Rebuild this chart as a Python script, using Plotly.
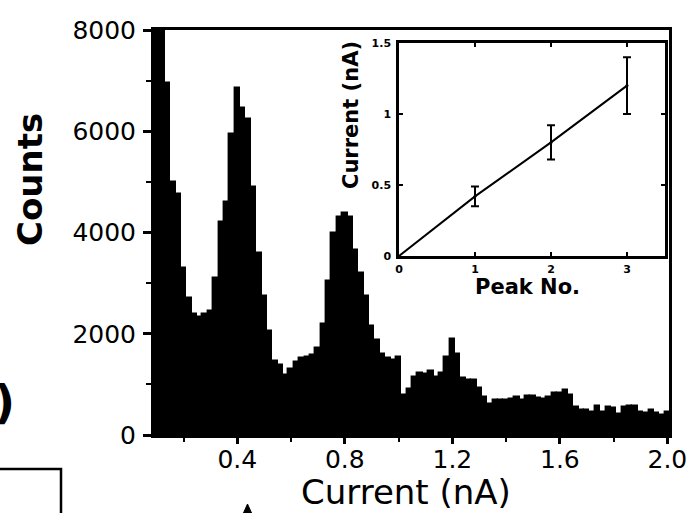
import plotly.graph_objects as go

# Histogram of current steps: bins of 0.02 nA starting at 0.09 nA
bin_start = 0.09
bin_width = 0.02
counts = [
    8600, 8300, 6950, 5000, 4770, 3300, 2700, 2400, 2340, 2400,
    2450, 3100, 4200, 4600, 5950, 6850, 6450, 6250, 4900, 3600,
    2750, 2050, 1470, 1380, 1180, 1300, 1450, 1530, 1550, 1580,
    1720, 2200, 3050, 4000, 4300, 4380, 4300, 3650, 3200, 2750,
    2150, 1880, 1600, 1515, 1490, 1550, 800, 900, 1150, 1230,
    1200, 1270, 1150, 1220, 1550, 1900, 1600, 1120, 1090, 1080,
    920, 760, 620, 690, 690, 690, 720, 757, 700, 780,
    780, 725, 710, 760, 823, 830, 890, 800, 550, 494,
    494, 450, 570, 460, 547, 540, 420, 550, 573, 573,
    461, 440, 500, 428, 400, 461,
]
bin_centers = [round(bin_start + bin_width * (i + 0.5), 3) for i in range(len(counts))]

# Inset: peak current versus peak number
peak_no = [0, 1, 2, 3]
peak_current = [0, 0.42, 0.80, 1.20]
peak_err_no = [1, 2, 3]
peak_err_current = [0.42, 0.80, 1.20]
peak_err = [0.07, 0.12, 0.20]

main_x_ticks = [0.4, 0.8, 1.2, 1.6, 2.0]
main_y_ticks = [0, 2000, 4000, 6000, 8000]
inset_x_ticks = [0, 1, 2, 3]
inset_y_ticks = [0, 0.5, 1, 1.5]
inset_y_text = ["0", "0.5", "1", "1.5"]

W, H = 689, 513
ML, MR, MT, MB = 154, 20, 30, 78
PW, PH = W - ML - MR, H - MT - MB


def px(x):
    return (x - ML) / PW


def py(y):
    return (H - MB - y) / PH


fig = go.Figure()

fig.add_trace(go.Bar(
    x=bin_centers, y=counts, width=bin_width,
    marker=dict(color="black", line=dict(color="black", width=1.4)),
    showlegend=False, xaxis="x", yaxis="y",
))

fig.add_trace(go.Scatter(
    x=peak_no, y=peak_current, mode="lines",
    line=dict(color="black", width=2),
    showlegend=False, xaxis="x2", yaxis="y2",
))
fig.add_trace(go.Scatter(
    x=peak_err_no, y=peak_err_current, mode="markers",
    marker=dict(color="black", size=3),
    error_y=dict(type="data", array=peak_err, visible=True,
                 color="black", thickness=2, width=4),
    showlegend=False, xaxis="x2", yaxis="y2",
))

tick_font = dict(family="DejaVu Sans", size=25, color="black")
inset_tick_font = dict(family="DejaVu Sans", size=11, color="black", weight="bold")

fig.update_layout(
    width=W, height=H,
    margin=dict(l=ML, r=MR, t=MT, b=MB, pad=0, autoexpand=False),
    paper_bgcolor="white", plot_bgcolor="white",
    bargap=0,
    xaxis=dict(
        domain=[0, 1], range=[0.09, 2.006], automargin=False,
        tickvals=main_x_ticks, tickformat=".1f",
        ticks="outside", ticklen=6, tickwidth=2.5, tickcolor="black",
        minor=dict(dtick=0.2, tick0=0, ticks="outside", ticklen=4,
                   tickwidth=2, tickcolor="black"),
        showline=True, linewidth=3, linecolor="black", mirror=True,
        showgrid=False, zeroline=False, tickfont=tick_font,
        ticklabelstandoff=-6,
    ),
    yaxis=dict(
        domain=[0, 1], range=[0, 8000], automargin=False,
        tickvals=main_y_ticks,
        ticks="outside", ticklen=8, tickwidth=2.5, tickcolor="black",
        minor=dict(dtick=1000, tick0=0, ticks="outside", ticklen=5,
                   tickwidth=2, tickcolor="black"),
        showline=True, linewidth=3, linecolor="black", mirror=True,
        showgrid=False, zeroline=False, tickfont=tick_font,
        ticklabelstandoff=2,
    ),
    xaxis2=dict(
        domain=[px(399), px(665)], anchor="y2", range=[0, 3.5],
        tickvals=inset_x_ticks, automargin=False,
        ticks="inside", ticklen=4, tickwidth=2, tickcolor="black",
        showline=True, linewidth=2.5, linecolor="black", mirror="ticks",
        showgrid=False, zeroline=False, tickfont=inset_tick_font,
        ticklabelstandoff=1,
    ),
    yaxis2=dict(
        domain=[py(256), py(43)], anchor="x2", range=[0, 1.5],
        tickvals=inset_y_ticks, ticktext=inset_y_text, automargin=False,
        ticks="inside", ticklen=4, tickwidth=2, tickcolor="black",
        showline=True, linewidth=2.5, linecolor="black", mirror="ticks",
        showgrid=False, zeroline=False, tickfont=inset_tick_font,
        ticklabelstandoff=3,
    ),
)

annotations = [
    dict(text="<b>Counts</b>", x=px(30), y=py(180), textangle=-90,
         font=dict(family="DejaVu Sans", size=34, color="black")),
    dict(text="Current (nA)", x=px(406), y=py(492),
         font=dict(family="DejaVu Sans", size=34, color="black")),
    dict(text="<b>Current (nA)</b>", x=px(351), y=py(115), textangle=-90,
         font=dict(family="DejaVu Sans", size=21, color="black")),
    dict(text="<b>Peak No.</b>", x=px(527), y=py(287),
         font=dict(family="DejaVu Sans", size=21, color="black")),
    dict(text="<b>)</b>", x=px(17), y=py(402), xanchor="right",
         font=dict(family="DejaVu Sans", size=46, color="black")),
]
for a in annotations:
    a.setdefault("xanchor", "center")
    a.update(xref="paper", yref="paper", yanchor="middle", showarrow=False)
fig.update_layout(annotations=annotations)

# Neighbouring panel frame and marker at the lower left edge
fig.add_shape(type="rect", xref="paper", yref="paper",
              x0=px(-10), x1=px(61), y0=py(540), y1=py(469),
              line=dict(color="black", width=2.5))
fig.add_shape(type="path", xref="paper", yref="paper",
              path=f"M {px(243)} {py(514)} L {px(252)} {py(514)} L {px(247.5)} {py(504)} Z",
              fillcolor="black", line=dict(color="black", width=1))

fig.write_html("out.html")
